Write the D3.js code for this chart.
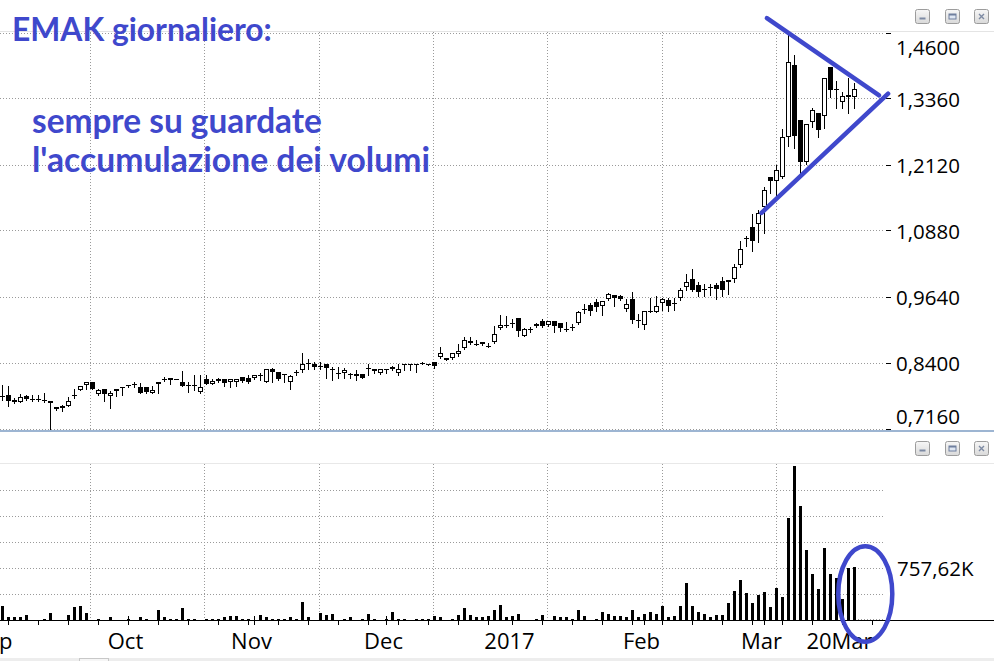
<!DOCTYPE html>
<html><head><meta charset="utf-8">
<script src="https://cdn.jsdelivr.net/npm/d3@7"></script>
<style>html,body{margin:0;padding:0;background:#fff;overflow:hidden}svg{display:block}</style>
</head><body><svg id="c" width="994" height="661"></svg>
<script>
// ---- DATA ----
const opens = [.778,.780,.771,.767,.778,.772,.772,.771,.769,.757,.759,.760,.778,.790,.799,.805,.781,.791,.778,.788,
.794,.799,.799,.794,.794,.784,.800,.810,.811,.810,.804,.799,.797,.786,.810,.801,.810,.809,.804,.805,
.813,.811,.811,.818,.805,.829,.823,.819,.805,.821,.826,.839,.839,.835,.839,.829,.820,.821,.819,.816,
.819,.830,.828,.821,.829,.832,.822,.838,.838,.839,.840,.839,.841,.851,.849,.849,.856,.868,.882,.876,
.879,.872,.880,.905,.911,.915,.924,.891,.903,.913,.919,.911,.918,.916,.904,.906,.915,.940,.949,.954,
.947,.960,.968,.966,.941,.960,.921,.911,.938,.936,.952,.958,.952,.962,.982,.997,.987,.978,.982,.986,
.995,.996,.997,1.024,1.073,1.095,1.102,1.133,1.189,1.181,1.189,1.265,1.400,1.297,1.217,1.292,1.309,1.305,1.396,1.354,
1.331,1.343,1.339];
const highs = [.799,.796,.774,.782,.780,.780,.780,.783,.769,.757,.761,.776,.792,.796,.804,.805,.792,.791,.788,.792,
.794,.799,.804,.802,.794,.796,.804,.814,.811,.810,.825,.804,.818,.818,.818,.810,.811,.809,.809,.810,
.813,.818,.818,.821,.828,.830,.823,.819,.818,.826,.858,.847,.841,.841,.839,.833,.833,.831,.822,.827,
.819,.839,.828,.828,.829,.834,.839,.838,.838,.839,.842,.839,.841,.871,.850,.858,.876,.888,.888,.883,
.880,.877,.910,.930,.928,.922,.924,.905,.908,.915,.922,.918,.918,.916,.917,.913,.938,.951,.952,.960,
.957,.972,.968,.968,.960,.973,.932,.938,.963,.965,.963,.963,.963,.980,1.007,1.016,.993,.988,.988,.990,
1.001,.996,1.026,1.069,1.079,1.120,1.128,1.170,1.189,1.212,1.279,1.456,1.419,1.297,1.289,1.319,1.309,1.375,1.396,1.369,
1.350,1.375,1.366];
const lows = [.771,.760,.764,.766,.771,.769,.769,.766,.714,.752,.749,.759,.774,.789,.791,.791,.780,.769,.755,.778,
.779,.794,.794,.783,.783,.783,.783,.807,.800,.809,.796,.786,.789,.784,.800,.800,.805,.797,.794,.797,
.805,.803,.809,.808,.804,.805,.808,.804,.792,.818,.824,.828,.829,.828,.812,.808,.812,.812,.812,.808,
.811,.818,.822,.819,.821,.827,.818,.827,.827,.824,.839,.836,.831,.849,.845,.848,.853,.866,.876,.873,
.874,.871,.878,.903,.908,.908,.891,.890,.899,.908,.908,.910,.899,.901,.900,.902,.913,.933,.930,.938,
.930,.958,.948,.958,.938,.916,.908,.903,.936,.935,.940,.938,.940,.958,.978,.976,.966,.966,.968,.960,
.965,.970,.993,1.021,1.059,1.051,1.068,1.085,1.159,1.153,1.187,1.247,1.243,1.196,1.214,1.284,1.265,1.281,1.339,1.319,
1.320,1.309,1.320];
const closes = [.778,.769,.767,.777,.773,.772,.772,.770,.764,.753,.756,.769,.779,.796,.804,.792,.789,.781,.784,.792,
.793,.798,.800,.784,.785,.789,.804,.810,.808,.810,.796,.798,.798,.794,.800,.806,.807,.803,.809,.809,
.807,.805,.817,.818,.828,.824,.810,.818,.816,.824,.839,.840,.832,.835,.830,.826,.821,.826,.820,.819,
.811,.828,.825,.828,.828,.829,.828,.838,.837,.839,.840,.837,.834,.858,.846,.858,.863,.883,.877,.876,
.875,.872,.895,.911,.910,.916,.901,.903,.904,.910,.910,.918,.910,.906,.903,.907,.935,.941,.938,.946,
.956,.970,.962,.961,.950,.920,.920,.937,.938,.948,.960,.948,.953,.978,.992,.978,.974,.979,.982,.979,
.978,.993,1.020,1.054,1.074,1.070,1.121,1.165,1.181,1.203,1.264,1.405,1.267,1.217,1.289,1.315,1.277,1.375,1.352,1.353,
1.342,1.340,1.355];
// volumes in thousands of shares
const volumes = [196,36,36,36,65,0,0,17,94,0,0,65,181,196,94,0,8,0,36,0,
0,8,0,36,8,0,138,36,8,8,167,17,8,0,17,8,8,36,51,51,
8,17,0,65,36,17,8,8,36,17,254,36,0,94,65,80,0,17,36,0,
8,80,8,0,17,109,8,8,0,8,8,8,51,36,0,17,65,167,65,36,
36,51,145,210,36,51,80,0,0,8,65,0,51,36,36,17,138,51,0,17,
109,80,51,51,36,138,45,85,109,80,196,45,51,196,529,196,109,80,36,65,
65,239,415,572,386,239,357,400,181,458,329,1459,2202,1630,1001,658,443,1030,658,601,
300,744,757.62];
const priceTicks = [1.46, 1.336, 1.212, 1.088, 0.964, 0.840, 0.716];
const volumeGrid = [369, 738, 1107, 1476, 1845];
const monthLabels = ["Sep","Oct","Nov","Dec","2017","Feb","Mar","20Mar"];
const monthBars = [-1, 21, 42, 64, 85, 107, 127, 140];
const weekTickBars = [1,6,11,16,21,26,31,36,41,46,51,56,61,66,71,76,81,85,90,95,100,105,110,115,120,125,130,135,140,145];
const titleLines = ["EMAK giornaliero:", "sempre su guardate", "l'accumulazione dei volumi"];
// hand-drawn annotations, in data units (bar index, price / volume)
const trendUpper = [[127.4, 1.488], [146.1, 1.343]];
const trendLower = [[126.5, 1.122], [147.6, 1.346]];
const volEllipse = {bar: 143.8, vol: 372, rBars: 4.5, rVol: 683};

// ---- DRAWING ----
const svg = d3.select("#c");
const n = closes.length;
const BLUE = "#3F48CC";
const x = d3.scaleLinear().domain([0, n - 1]).range([2.5, 854.5]);
const yP = d3.scaleLinear().domain([0.716, 1.46]).range([429, 33]);
const yV = d3.scaleLinear().domain([0, volumes[n - 1]]).range([620, 567]);
const crisp = v => Math.round(v - 0.5) + 0.5;
const fmtP = v => d3.format(".4f")(v).replace(".", ",");
const fmtV = v => d3.format(".2f")(v).replace(".", ",") + "K";

svg.append("rect").attr("width", 994).attr("height", 661).attr("fill", "#fff");

// panel top lines
svg.append("line").attr("x1", 0).attr("x2", 994).attr("y1", 31.5).attr("y2", 31.5).attr("stroke", "#e4e4e4");
svg.append("line").attr("x1", 0).attr("x2", 994).attr("y1", 463.5).attr("y2", 463.5).attr("stroke", "#e8e8e8");

const gridColor = "#9a9a9a";
const vGridX = d3.range(7).map(k => crisp(90.5 + 114.3 * k));

// price gridlines
const gP = svg.append("g");
gP.selectAll("line.h").data(priceTicks).join("line")
  .attr("x1", 0).attr("x2", 885).attr("y1", d => crisp(yP(d))).attr("y2", d => crisp(yP(d)))
  .attr("stroke", gridColor).attr("stroke-dasharray", "1,2");
gP.selectAll("line.v").data(vGridX).join("line")
  .attr("x1", d => d).attr("x2", d => d).attr("y1", 32).attr("y2", 430)
  .attr("stroke", gridColor).attr("stroke-dasharray", "1,2");

// price axis ticks and labels
gP.selectAll("line.t").data(priceTicks).join("line")
  .attr("x1", 886).attr("x2", 891).attr("y1", d => crisp(yP(d))).attr("y2", d => crisp(yP(d)))
  .attr("stroke", "#000");
gP.selectAll("text").data(priceTicks).join("text")
  .attr("x", 896)
  .attr("y", d => Math.max(47, Math.min(416, yP(d))))
  .attr("dominant-baseline", "central")
  .attr("font-family", "'Open Sans', sans-serif").attr("font-size", 20.5).attr("fill", "#000")
  .text(fmtP);

// candles
svg.append("clipPath").attr("id", "pclip").append("rect").attr("x", 0).attr("y", 32).attr("width", 994).attr("height", 398);
const gC = svg.append("g").attr("clip-path", "url(#pclip)");
const idx = d3.range(n);
gC.selectAll("line.w").data(idx).join("line")
  .attr("x1", i => x(i)).attr("x2", i => x(i))
  .attr("y1", i => Math.round(yP(highs[i]))).attr("y2", i => Math.round(yP(lows[i])) + 1)
  .attr("stroke", "#000").attr("stroke-width", 1);
idx.forEach(i => {
  const o = yP(opens[i]), c = yP(closes[i]);
  const top = Math.round(Math.min(o, c)), bot = Math.round(Math.max(o, c));
  const xc = x(i);
  if (bot - top < 2) {
    gC.append("line").attr("x1", xc - 2.5).attr("x2", xc + 2.5)
      .attr("y1", top + 0.5).attr("y2", top + 0.5).attr("stroke", "#000");
  } else {
    gC.append("rect").attr("x", xc - 2).attr("width", 4)
      .attr("y", top + 0.5).attr("height", bot - top - 1)
      .attr("fill", closes[i] >= opens[i] ? "#fff" : "#000").attr("stroke", "#000");
  }
});

// separator
svg.append("rect").attr("x", 0).attr("y", 430).attr("width", 994).attr("height", 2).attr("fill", "#9db5d2");

// volume panel grid
const gV = svg.append("g");
gV.selectAll("line.h").data(volumeGrid).join("line")
  .attr("x1", 0).attr("x2", 885).attr("y1", d => crisp(yV(d))).attr("y2", d => crisp(yV(d)))
  .attr("stroke", gridColor).attr("stroke-dasharray", "1,2");
gV.append("line").attr("x1", 855).attr("x2", 885).attr("y1", 619.5).attr("y2", 619.5)
  .attr("stroke", gridColor).attr("stroke-dasharray", "1,2");
gV.selectAll("line.v").data(vGridX).join("line")
  .attr("x1", d => d).attr("x2", d => d).attr("y1", 464).attr("y2", 620)
  .attr("stroke", gridColor).attr("stroke-dasharray", "1,2");

// volume bars
gV.selectAll("rect.b").data(idx).join("rect")
  .attr("x", i => x(i) - 1.5).attr("width", 3)
  .attr("y", i => Math.round(yV(volumes[i]))).attr("height", i => 620 - Math.round(yV(volumes[i])))
  .attr("fill", "#000");

// volume label (last value)
gV.append("text").attr("x", 897).attr("y", yV(volumes[n - 1]) + 1)
  .attr("dominant-baseline", "central")
  .attr("font-family", "'Open Sans', sans-serif").attr("font-size", 20.5).attr("fill", "#000")
  .text(fmtV(volumes[n - 1]));

// x axis
svg.append("line").attr("x1", 0).attr("x2", 994).attr("y1", 620.5).attr("y2", 620.5).attr("stroke", "#000");
svg.selectAll("line.wt").data(weekTickBars).join("line")
  .attr("x1", d => x(d)).attr("x2", d => x(d)).attr("y1", 621).attr("y2", 625).attr("stroke", "#000");
svg.selectAll("line.mt").data(monthBars.slice(1, 7)).join("line")
  .attr("x1", d => x(d)).attr("x2", d => x(d)).attr("y1", 616).attr("y2", 625).attr("stroke", "#000");
svg.selectAll("text.m").data(monthLabels).join("text")
  .attr("x", (d, k) => x(monthBars[k]) - 3).attr("y", 649)
  .attr("text-anchor", "middle")
  .attr("font-family", "'Open Sans', sans-serif").attr("font-size", 22).attr("fill", "#000")
  .text(d => d);

// bottom strip
svg.append("rect").attr("x", 0).attr("y", 658).attr("width", 994).attr("height", 3).attr("fill", "#ededed");
svg.append("rect").attr("x", 79.5).attr("y", 658.5).attr("width", 29).attr("height", 3).attr("fill", "#f6f6f6").attr("stroke", "#c8c8c8");

// window buttons
const defs = svg.append("defs");
const gr = defs.append("linearGradient").attr("id", "btn").attr("x1", 0).attr("x2", 0).attr("y1", 0).attr("y2", 1);
gr.append("stop").attr("offset", "0%").attr("stop-color", "#f7f7f7");
gr.append("stop").attr("offset", "100%").attr("stop-color", "#d9d9d9");
function buttons(cy) {
  [921.5, 951.5, 981].forEach((cx, k) => {
    const g = svg.append("g").attr("transform", `translate(${Math.round(cx - 7) + 0.5},${Math.round(cy - 7) + 0.5})`);
    g.append("rect").attr("width", 14).attr("height", 14).attr("rx", 2).attr("fill", "url(#btn)").attr("stroke", "#9c9c9c");
    if (k === 0) g.append("rect").attr("x", 4).attr("y", 8).attr("width", 6).attr("height", 2).attr("fill", "#7d8aa3");
    if (k === 1) { g.append("rect").attr("x", 3.5).attr("y", 4.5).attr("width", 7).attr("height", 5).attr("fill", "#dfe7f3").attr("stroke", "#6f7f9e");
                   g.append("rect").attr("x", 3.5).attr("y", 4.5).attr("width", 7).attr("height", 1.5).attr("fill", "#6f7f9e"); }
    if (k === 2) g.append("path").attr("d", "M4.5,4.5L9.5,9.5M9.5,4.5L4.5,9.5").attr("stroke", "#7d8aa3").attr("stroke-width", 1.4);
  });
}
buttons(15.7);
buttons(448);

// annotations
const ann = svg.append("g").attr("fill", "none").attr("stroke", BLUE).attr("stroke-width", 4.5).attr("stroke-linecap", "round");
const lineP = d3.line().x(d => x(d[0])).y(d => yP(d[1]));
ann.append("path").attr("d", lineP(trendUpper));
ann.append("path").attr("d", lineP(trendLower));
ann.append("ellipse")
  .attr("cx", x(volEllipse.bar)).attr("cy", yV(volEllipse.vol))
  .attr("rx", x(volEllipse.bar + volEllipse.rBars) - x(volEllipse.bar))
  .attr("ry", yV(0) - yV(volEllipse.rVol));

// title texts
const titleSpec = [{x: 12, y: 41, w: 260}, {x: 32, y: 133, w: 290}, {x: 32, y: 172, w: 398}];
titleLines.forEach((t, k) => {
  const s = titleSpec[k];
  const tx = svg.append("text").attr("x", s.x).attr("y", s.y)
    .attr("font-family", "Lato, 'Open Sans', sans-serif").attr("font-weight", 700)
    .attr("font-size", 27).attr("fill", BLUE).text(t);
  const w = tx.node().getComputedTextLength();
  if (w > 0) tx.attr("font-size", 27 * s.w / w);
});
</script></body></html>
